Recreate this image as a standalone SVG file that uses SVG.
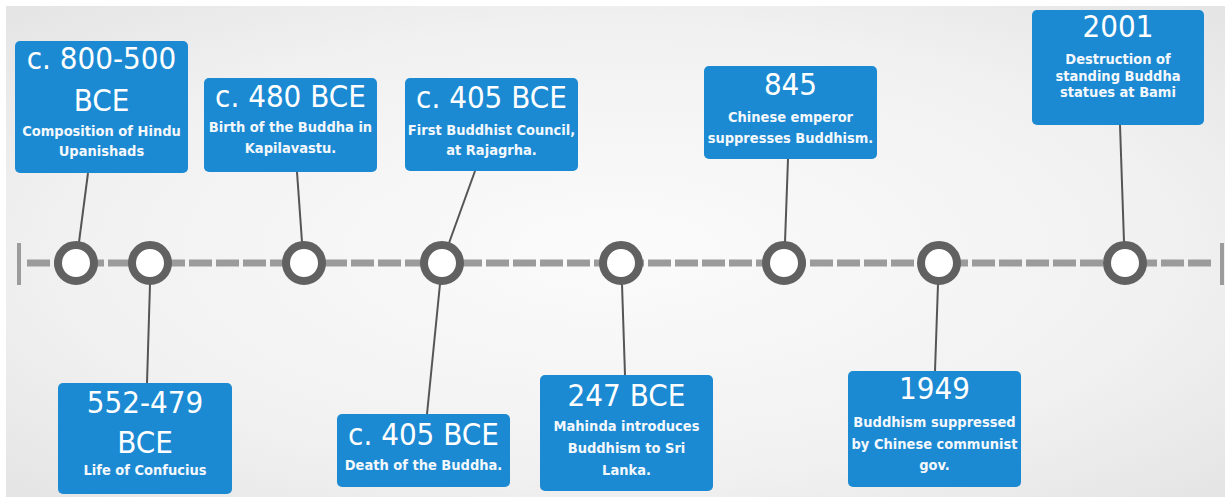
<svg xmlns="http://www.w3.org/2000/svg" width="1225" height="497" viewBox="0 0 1225 497">
<defs>
<radialGradient id="bg" cx="50%" cy="50%" r="75%">
<stop offset="0" stop-color="#fbfbfb"/>
<stop offset="0.6" stop-color="#f1f1f1"/>
<stop offset="1" stop-color="#e2e2e2"/>
</radialGradient>
<style>
.box{fill:#1b8ad3;}
.h{font-family:"DejaVu Sans Condensed","DejaVu Sans",sans-serif;font-size:31px;fill:#ffffff;text-anchor:middle;}
.s{font-family:"DejaVu Sans Condensed","DejaVu Sans",sans-serif;font-size:14.5px;font-weight:bold;fill:#f4f8fc;text-anchor:middle;}
.dot{fill:#ffffff;stroke:#616161;stroke-width:8;}
.conn{stroke:#555555;stroke-width:2;fill:none;}
.axis{stroke:#9b9b9b;stroke-width:7;stroke-dasharray:23 4;fill:none;}
.tick{stroke:#9b9b9b;stroke-width:4;}
</style>
</defs>
<rect x="0" y="0" width="1225" height="497" fill="#ffffff"/>
<rect x="6" y="6" width="1219" height="491" fill="url(#bg)"/>

<g id="axis">
<line class="axis" x1="27" y1="263" x2="1212" y2="263"/>
<line class="tick" x1="19" y1="243" x2="19" y2="285"/>
<line class="tick" x1="1222" y1="243" x2="1222" y2="285"/>
</g>

<g id="connectors">
<line class="conn" x1="88" y1="173" x2="79" y2="242"/>
<line class="conn" x1="297" y1="172" x2="302" y2="242"/>
<line class="conn" x1="475" y1="171" x2="449" y2="243"/>
<line class="conn" x1="788" y1="159" x2="785" y2="242"/>
<line class="conn" x1="1120" y1="125" x2="1124" y2="242"/>
<line class="conn" x1="150" y1="284" x2="147" y2="383"/>
<line class="conn" x1="440" y1="284" x2="427" y2="414"/>
<line class="conn" x1="622" y1="284" x2="625" y2="375"/>
<line class="conn" x1="938" y1="284" x2="935" y2="371"/>
</g>

<g id="points">
<circle class="dot" cx="76" cy="263" r="18"/>
<circle class="dot" cx="150" cy="263" r="18"/>
<circle class="dot" cx="304" cy="263" r="18"/>
<circle class="dot" cx="442" cy="263" r="18"/>
<circle class="dot" cx="621" cy="263" r="18"/>
<circle class="dot" cx="784" cy="263" r="18"/>
<circle class="dot" cx="939" cy="263" r="18"/>
<circle class="dot" cx="1125" cy="263" r="18"/>
</g>

<g id="n1">
<rect class="box" x="15" y="41" width="173" height="132" rx="5"/>
<text class="h" x="101.5" y="69">c. 800-500</text>
<text class="h" x="101.5" y="111">BCE</text>
<text class="s" x="101.5" y="136">Composition of Hindu</text>
<text class="s" x="101.5" y="156">Upanishads</text>
</g>

<g id="n2">
<rect class="box" x="204" y="78" width="173" height="94" rx="5"/>
<text class="h" x="290.5" y="107">c. 480 BCE</text>
<text class="s" x="290.5" y="132">Birth of the Buddha in</text>
<text class="s" x="290.5" y="153">Kapilavastu.</text>
</g>

<g id="n3">
<rect class="box" x="405" y="78" width="173" height="93" rx="5"/>
<text class="h" x="491.5" y="108">c. 405 BCE</text>
<text class="s" x="491.5" y="135">First Buddhist Council,</text>
<text class="s" x="491.5" y="155">at Rajagrha.</text>
</g>

<g id="n4">
<rect class="box" x="704" y="66" width="173" height="93" rx="5"/>
<text class="h" x="790.5" y="95">845</text>
<text class="s" x="790.5" y="122">Chinese emperor</text>
<text class="s" x="790.5" y="143">suppresses Buddhism.</text>
</g>

<g id="n5">
<rect class="box" x="1032" y="10" width="172" height="115" rx="5"/>
<text class="h" x="1118" y="37">2001</text>
<text class="s" x="1118" y="64">Destruction of</text>
<text class="s" x="1118" y="80.5">standing Buddha</text>
<text class="s" x="1118" y="97">statues at Bami</text>
</g>

<g id="n6">
<rect class="box" x="58" y="383" width="174" height="111" rx="5"/>
<text class="h" x="145" y="413">552-479</text>
<text class="h" x="145" y="453">BCE</text>
<text class="s" x="145" y="475">Life of Confucius</text>
</g>

<g id="n7">
<rect class="box" x="337" y="414" width="173" height="73" rx="5"/>
<text class="h" x="423.5" y="445">c. 405 BCE</text>
<text class="s" x="423.5" y="470">Death of the Buddha.</text>
</g>

<g id="n8">
<rect class="box" x="540" y="375" width="173" height="116" rx="5"/>
<text class="h" x="626.5" y="406">247 BCE</text>
<text class="s" x="626.5" y="431">Mahinda introduces</text>
<text class="s" x="626.5" y="453">Buddhism to Sri</text>
<text class="s" x="626.5" y="475">Lanka.</text>
</g>

<g id="n9">
<rect class="box" x="848" y="371" width="173" height="116" rx="5"/>
<text class="h" x="934.5" y="399">1949</text>
<text class="s" x="934.5" y="427">Buddhism suppressed</text>
<text class="s" x="934.5" y="449">by Chinese communist</text>
<text class="s" x="934.5" y="470">gov.</text>
</g>
</svg>
